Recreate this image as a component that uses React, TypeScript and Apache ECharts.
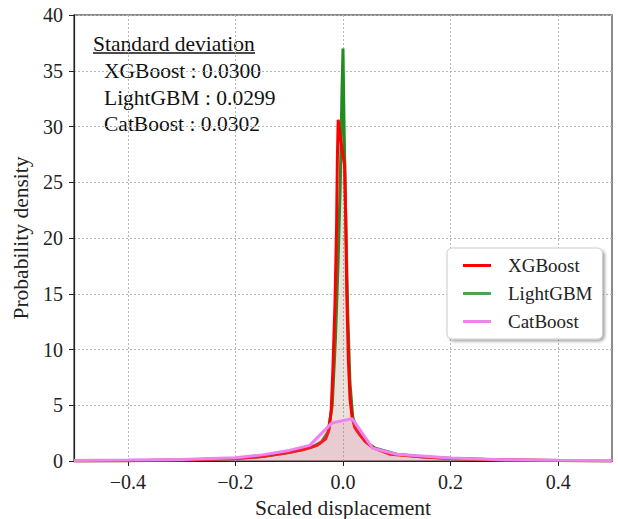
import React, { useEffect, useRef } from "react";
import * as echarts from "echarts";

const xgbX = [-0.5, -0.4, -0.3, -0.2, -0.15, -0.11, -0.075, -0.048, -0.032, -0.026, -0.022, -0.019, -0.015, -0.012, -0.0105, -0.009, -0.006, -0.002, 0.003, 0.005, 0.007, 0.01, 0.013, 0.017, 0.022, 0.032, 0.045, 0.056, 0.088, 0.15, 0.2, 0.3, 0.4, 0.5];
const xgbY = [0.01, 0.03, 0.08, 0.22, 0.4, 0.7, 1.0, 1.4, 2.0, 2.8, 4.5, 8, 14, 21, 27, 30.6, 29.5, 28, 26.5, 22, 15, 9, 5.6, 3.9, 3.0, 2.3, 1.6, 1.17, 0.6, 0.36, 0.22, 0.09, 0.04, 0.01];

const lgbX = [-0.5, -0.4, -0.3, -0.2, -0.15, -0.1, -0.06, -0.04, -0.028, -0.02, -0.014, -0.009, -0.005, -0.002, 0.0, 0.002, 0.005, 0.009, 0.013, 0.018, 0.025, 0.04, 0.06, 0.1, 0.15, 0.2, 0.3, 0.4, 0.5];
const lgbY = [0.01, 0.03, 0.08, 0.22, 0.4, 0.75, 1.2, 1.7, 2.6, 5, 11, 18, 25, 33, 37, 30, 22, 13, 7, 4, 2.8, 1.8, 1.15, 0.6, 0.36, 0.22, 0.09, 0.04, 0.01];

const catX = [-0.5, -0.4, -0.3, -0.2, -0.15, -0.1, -0.062, -0.021, 0.017, 0.055, 0.1, 0.2, 0.3, 0.4, 0.5];
const catY = [0.05, 0.08, 0.14, 0.3, 0.55, 0.95, 1.4, 3.4, 3.8, 1.15, 0.6, 0.27, 0.12, 0.07, 0.05];

const xTicks = [-0.4, -0.2, 0.0, 0.2, 0.4];
const seriesNames = ["XGBoost", "LightGBM", "CatBoost"];
const stdTitle = "Standard deviation";
const stdLines = ["XGBoost : 0.0300", "LightGBM : 0.0299", "CatBoost : 0.0302"];

const zip = (xs: number[], ys: number[]) => xs.map((x, i) => [x, ys[i]]);

const FONT = "'Liberation Serif', 'Times New Roman', serif";

export default function App() {
  const ref = useRef<HTMLDivElement>(null);
  useEffect(() => {
    if (!ref.current) return;
    const chart = echarts.init(ref.current, undefined, { renderer: "svg" });
    const fmt = (v: number) => {
      const s = Math.abs(v).toFixed(1);
      return v < -1e-9 ? "\u2212" + s : s;
    };
    chart.setOption({
      animation: false,
      backgroundColor: "#fff",
      grid: {
        left: 74,
        right: 6,
        top: 15,
        bottom: 58,
        outerBoundsMode: "none",
        containLabel: false,
        show: true,
        borderColor: "#666",
        borderWidth: 1.5,
        backgroundColor: "transparent",
      },
      xAxis: {
        type: "value",
        min: -0.5,
        max: 0.5,
        name: "Scaled displacement",
        nameLocation: "middle",
        nameGap: 35,
        nameTextStyle: { fontFamily: FONT, fontSize: 21.5, color: "#222" },
        axisLine: { show: true, onZero: false, lineStyle: { color: "#222", width: 1.2 } },
        axisTick: { show: true, length: 5, customValues: xTicks, lineStyle: { color: "#222" } },
        axisLabel: {
          customValues: xTicks,
          formatter: fmt,
          fontFamily: FONT,
          fontSize: 20,
          color: "#222",
          margin: 11,
        },
        splitLine: { show: true, lineStyle: { color: "#b5b5b5", type: [2, 2], width: 1 } },
      },
      yAxis: {
        type: "value",
        min: 0,
        max: 40,
        interval: 5,
        name: "Probability density",
        nameLocation: "middle",
        nameGap: 41,
        nameTextStyle: { fontFamily: FONT, fontSize: 21.5, color: "#222" },
        axisLine: { show: true, onZero: false, lineStyle: { color: "#222", width: 1.2 } },
        axisTick: { show: true, length: 5, lineStyle: { color: "#222" } },
        axisLabel: { fontFamily: FONT, fontSize: 20, color: "#222", margin: 11 },
        splitLine: { show: true, lineStyle: { color: "#b5b5b5", type: [2, 2], width: 1 } },
      },
      legend: {
        data: seriesNames,
        orient: "vertical",
        left: 447,
        top: 248,
        icon: "rect",
        itemWidth: 28,
        itemHeight: 3,
        itemGap: 9,
        padding: [8, 10, 8, 16],
        backgroundColor: "#fff",
        borderColor: "#ccc",
        borderWidth: 1,
        borderRadius: 5,
        shadowBlur: 3,
        shadowOffsetX: 2,
        shadowOffsetY: 2,
        shadowColor: "rgba(0,0,0,0.35)",
        textStyle: { fontFamily: FONT, fontSize: 19, color: "#222", padding: [0, 0, 0, 12] },
      },
      series: [
        {
          name: "LightGBM",
          type: "line",
          data: zip(lgbX, lgbY),
          showSymbol: false,
          color: "#4ea34e",
          lineStyle: { color: "#228b22", width: 3 },
          areaStyle: { color: "rgba(34,139,34,0.10)" },
          z: 2,
        },
        {
          name: "XGBoost",
          type: "line",
          data: zip(xgbX, xgbY),
          showSymbol: false,
          color: "#ff0000",
          lineStyle: { color: "#ff0000", width: 3 },
          areaStyle: { color: "rgba(230,60,60,0.15)" },
          z: 3,
        },
        {
          name: "CatBoost",
          type: "line",
          data: zip(catX, catY),
          showSymbol: false,
          color: "#ee82ee",
          lineStyle: { color: "#ee82ee", width: 3 },
          areaStyle: { color: "rgba(215,120,180,0.30)" },
          z: 4,
        },
      ],
      graphic: [
        {
          type: "text",
          left: 93,
          top: 32.5,
          style: { text: stdTitle, font: `21.5px ${FONT}`, fill: "#111" },
        },
        {
          type: "line",
          shape: { x1: 93, y1: 53, x2: 255, y2: 53 },
          style: { stroke: "#111", lineWidth: 1.3 },
        },
        ...stdLines.map((t, i) => ({
          type: "text",
          left: 104,
          top: 60 + i * 26.7,
          style: { text: t, font: `21.5px ${FONT}`, fill: "#111" },
        })),
      ],
    });
    return () => chart.dispose();
  }, []);
  return <div ref={ref} style={{ width: 618, height: 519, position: "absolute", left: 0, top: 0 }} />;
}
